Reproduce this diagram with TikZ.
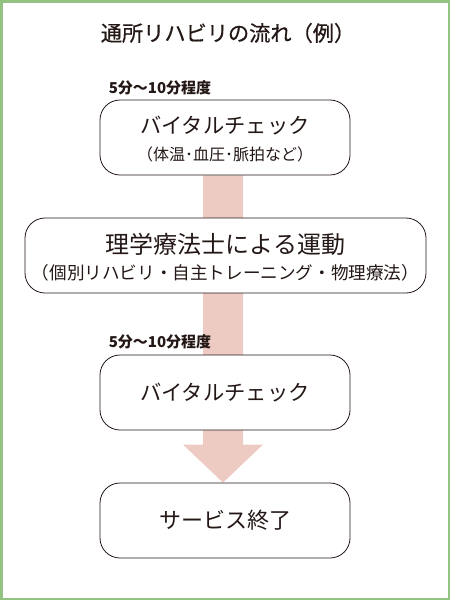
\documentclass[tikz,border=0pt]{standalone}
\usepackage{fontspec}
\newfontfamily\jp{Noto Sans CJK JP}
\newfontfamily\jpm[FakeBold=0.6]{Noto Sans CJK JP}
\usetikzlibrary{calc,backgrounds}
\definecolor{frame}{RGB}{148,194,128}
\definecolor{band}{RGB}{237,203,194}
\definecolor{ink}{RGB}{35,24,21}
\begin{document}
\begin{tikzpicture}[x=1pt,y=-1pt,
  box/.style={draw=ink, line width=0.8pt, rounded corners=20pt, fill=white,
    minimum width=250pt, minimum height=75pt, align=center, text=ink, inner sep=0pt},
  lbl/.style={font=\jp\bfseries\fontsize{15}{17}\selectfont, text=ink}]
\useasboundingbox (0,0) rectangle (450,600);
\draw[frame, line width=2.5pt] (1.25,1.25) rectangle (448.75,598.75);
\node[font=\jpm\fontsize{21.2}{25}\selectfont, text=ink] (title) at (228,33) {通所リハビリの流れ（例）};
\node[lbl] (l1) at (160,88) {5分～10分程度};
\node[box, font=\jp\fontsize{21.3}{27}\selectfont] (b1) at (225,137.5) {\rule{0pt}{21pt}バイタルチェック\\{\fontsize{16}{27}\selectfont （体温･血圧･脈拍など）}};
\node[box, minimum width=401pt, font=\jp\fontsize{24}{26}\selectfont] (b2) at (225.5,255.5) {\rule{0pt}{24pt}理学療法士による運動\\{\fontsize{17.6}{26}\selectfont （個別リハビリ・自主トレーニング・物理療法）}};
\node[lbl] (l2) at (160,342) {5分～10分程度};
\node[box, font=\jp\fontsize{21.3}{26}\selectfont] (b3) at (225,392.5) {バイタルチェック};
\node[box, font=\jp\fontsize{22}{26}\selectfont] (b4) at (225,520.5) {サービス終了};
\begin{scope}[on background layer]
\fill[band] ($(b1.south)+(-22,0)$) -- ($(b4.north)+(-22,-38)$) -- ($(b4.north)+(-42,-38)$)
  -- ($(b4.north)+(-2,0)$) -- ($(b4.north)+(38,-38)$) -- ($(b4.north)+(18,-38)$)
  -- ($(b1.south)+(18,0)$) -- cycle;
\end{scope}
\end{tikzpicture}
\end{document}
